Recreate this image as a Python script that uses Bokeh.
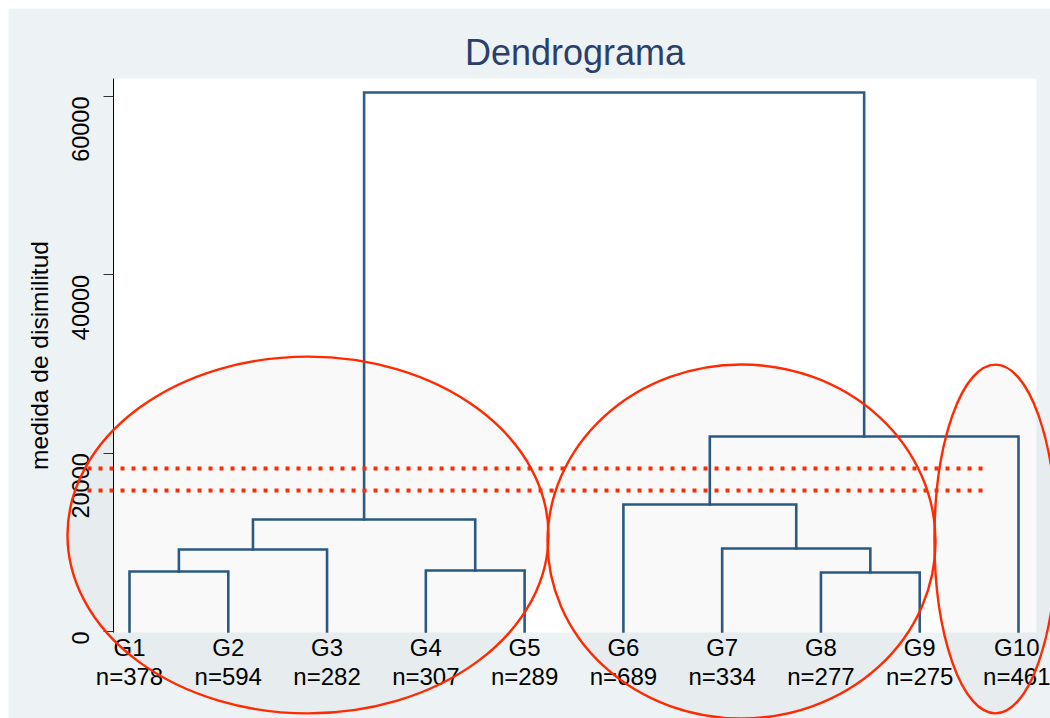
import math
from bokeh.plotting import figure
from bokeh.models import Range1d, FixedTicker, BoxAnnotation, Label, Spacer
from bokeh.layouts import column, row
from bokeh.embed import file_html
from bokeh.resources import INLINE

# ---- data ----
groups = ["G1", "G2", "G3", "G4", "G5", "G6", "G7", "G8", "G9", "G10"]
counts = [378, 594, 282, 307, 289, 689, 334, 277, 275, 461]
# linkage: (left member, right member, merge height); members are leaf names or merge indices
merge_left = ["G1", "G4", "G8", 0, "G7", 3, "G6", 6, 5]
merge_right = ["G2", "G5", "G9", "G3", 2, 1, 4, "G10", 7]
merge_height = [6730, 6840, 6620, 9200, 9310, 12560, 14240, 21870, 60450]

y_ticks = [0, 20000, 40000, 60000]
cut_levels = [18280, 15813]

# ellipse annotations (data units): centre x, centre y, full width, full height
ell_cx = [2.807, 7.196, 9.767]
ell_cy = [10823, 10093, 10374]
ell_w = [4.870, 3.928, 1.236]
ell_h = [40038, 39700, 39140]
cut_x0, cut_x1 = 0.575, 9.686

# plot region (data units) and canvas extent (data units)
plot_x0, plot_x1 = 0.838, 10.182
plot_y0, plot_y1 = -112, 62018
canvas_x0, canvas_x1 = -0.225, 10.324
canvas_y0, canvas_y1 = -9757, 69869
title_x, title_y = 5.51, 64934

# ---- colors ----
BG = "#edf2f5"
NAVY = "#2c5c88"
RED = "#ff2a00"

p = figure(width=1042, height=710, output_backend="svg", toolbar_location=None,
           x_range=Range1d(canvas_x0, canvas_x1), y_range=Range1d(canvas_y0, canvas_y1),
           min_border=0)
p.background_fill_color = BG
p.border_fill_color = BG
p.outline_line_color = None
p.grid.visible = False

# white plot region
p.add_layout(BoxAnnotation(left=plot_x0, right=plot_x1, bottom=plot_y0, top=plot_y1,
                           fill_color="white", fill_alpha=1.0, line_color=None, level="underlay"))

# title
p.add_layout(Label(x=title_x, y=title_y, text="Dendrograma", text_align="center",
                   text_baseline="middle", text_font="Liberation Sans", text_font_size="36px",
                   text_color="#2a3f6b"))

# compute dendrogram paths
pos = {g: i + 1 for i, g in enumerate(groups)}
node_x, node_h = [], []
xs, ys = [], []
def member(m):
    if isinstance(m, str):
        return pos[m], 0.0
    return node_x[m], node_h[m]
for l, r, h in zip(merge_left, merge_right, merge_height):
    lx, lh = member(l)
    rx, rh = member(r)
    xs.append([lx, lx, rx, rx])
    ys.append([lh, h, h, rh])
    node_x.append((lx + rx) / 2)
    node_h.append(h)
p.multi_line(xs, ys, line_color=NAVY, line_width=2.6, line_join="miter", line_cap="square")

# axes
xa = p.xaxis[0]
xa.fixed_location = plot_y0
xa.bounds = (plot_x0, plot_x1)
xa.ticker = FixedTicker(ticks=list(range(1, len(groups) + 1)))
xa.major_label_overrides = {i + 1: f"{g}\nn={c}" for i, (g, c) in enumerate(zip(groups, counts))}
xa.axis_line_color = None
xa.major_tick_line_color = None
xa.minor_tick_line_color = None
xa.major_label_text_font = "Liberation Sans"
xa.major_label_text_font_size = "24px"
xa.major_label_text_line_height = 1.05
xa.major_label_text_color = "black"
xa.major_label_standoff = -4

ya = p.yaxis[0]
ya.fixed_location = plot_x0
ya.bounds = (plot_y0, plot_y1)
ya.ticker = FixedTicker(ticks=y_ticks)
ya.minor_tick_line_color = None
ya.major_tick_in = 0
ya.major_tick_out = 10
ya.axis_line_color = "black"
ya.major_tick_line_color = "#333333"
ya.major_label_orientation = math.pi / 2
ya.major_label_text_font = "Liberation Sans"
ya.major_label_text_font_size = "23.5px"
ya.major_label_text_color = "black"
ya.major_label_standoff = 23
ya.axis_label = "medida de disimilitud"
ya.axis_label_text_font = "Liberation Sans"
ya.axis_label_text_font_size = "24.5px"
ya.axis_label_text_font_style = "normal"
ya.axis_label_text_color = "black"
ya.axis_label_standoff = 8

# ellipses (drawn over the labels, as in the original)
p.ellipse(x=ell_cx, y=ell_cy, width=ell_w, height=ell_h,
          fill_color="black", fill_alpha=0.025, line_color=RED, line_width=2.4, level="overlay")

# cut lines
p.segment(x0=[cut_x0] * len(cut_levels), y0=cut_levels, x1=[cut_x1] * len(cut_levels), y1=cut_levels,
          line_color=RED, line_width=4, line_dash="4 7", line_cap="butt", level="overlay")

layout = column(Spacer(height=8), row(Spacer(width=8), p))
open("out.html", "w").write(file_html(layout, INLINE))
